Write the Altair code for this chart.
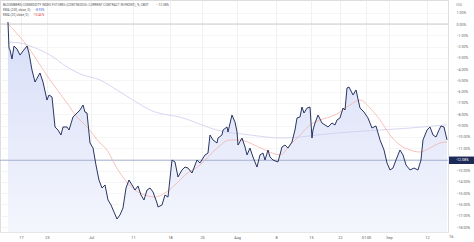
import altair as alt
import pandas as pd

# ---- data (values in % change; t = trading-session index) ----
t_main = [1.14, 1.29, 1.43, 1.71, 2.0, 2.43, 2.86, 3.29, 3.86, 4.14, 4.57, 5.0, 5.71, 6.14, 6.71, 7.0,
          7.43, 7.86, 8.29, 8.71, 9.0, 9.57, 9.86, 10.43, 11.0, 11.43, 11.86, 12.14, 12.43, 12.86, 13.29,
          13.71, 14.14, 14.57, 15.0, 15.43, 15.86, 16.29, 16.71, 17.14, 17.57, 18.0, 18.43, 18.86, 19.29,
          19.71, 20.14, 20.57, 21.0, 21.43, 21.86, 22.43, 22.57, 23.14, 23.57, 24.0, 24.57, 25.0, 25.43,
          26.0, 26.43, 26.86, 27.43, 28.14, 28.57, 29.29, 29.71, 30.0, 30.43, 31.0, 31.14, 31.71, 31.86,
          32.43, 32.57, 33.14, 33.57, 33.86, 34.0, 34.57, 35.0, 35.29, 35.71, 36.14, 36.71, 37.14, 37.57,
          37.86, 38.29, 38.57, 39.0, 39.71, 40.29, 40.71, 41.14, 41.71, 42.14, 42.43, 42.86, 43.14, 43.43,
          43.86, 44.29, 44.57, 44.71, 45.0, 45.43, 46.0, 46.43, 46.86, 47.43, 47.86, 48.14, 48.57, 49.0,
          49.29, 49.57, 49.86, 50.43, 50.86, 51.43, 52.0, 52.57, 53.14, 53.71, 54.29, 54.86, 55.29, 55.71,
          56.14, 56.57, 57.14, 57.57, 58.0, 58.57, 59.14, 59.71, 60.14, 60.43, 61.0, 61.43, 61.86, 62.29,
          62.71, 63.0, 63.43, 63.86]
v_main = [0.18, -2.13, -2.30, -3.10, -1.95, -2.22, -2.75, -2.39, -1.95, -2.57, -4.08, -5.14, -4.34, -5.14, -6.74, -6.29,
          -6.47, -9.13, -9.40, -9.84, -9.13, -9.13, -9.40, -8.24, -7.89, -7.62, -7.18, -7.80, -7.89, -10.55, -10.99,
          -12.50, -13.83, -14.54, -14.27, -15.60, -16.05, -16.67, -17.29, -16.93, -16.31, -14.54, -13.83, -14.27, -14.72,
          -14.36, -15.16, -15.60, -14.72, -14.54, -14.89, -15.87, -16.22, -16.05, -15.16, -15.34, -12.06, -12.23, -13.56,
          -12.94, -12.68, -12.77, -13.21, -12.06, -12.32, -11.61, -11.44, -9.84, -10.28, -10.55, -10.11, -9.84, -9.40,
          -9.13, -9.57, -8.07, -8.69, -9.57, -10.73, -10.11, -10.90, -11.61, -11.00, -11.79, -12.68, -11.61, -11.44,
          -12.06, -11.17, -11.79, -12.06, -12.23, -10.90, -10.73, -11.00, -10.46, -9.40, -8.33, -8.24, -7.36, -7.89,
          -7.45, -7.36, -10.11, -9.40, -8.78, -8.07, -8.78, -8.95, -9.13, -8.78, -8.95, -8.51, -8.33, -7.45,
          -7.62, -5.67, -5.59, -6.29, -5.85, -7.45, -7.80, -8.33, -9.22, -9.04, -10.28, -11.17, -12.32, -12.94,
          -12.77, -12.06, -11.17, -11.61, -12.50, -12.94, -12.77, -12.94, -12.06, -10.28, -9.40, -9.13, -9.84, -10.02,
          -9.40, -9.04, -9.13, -10.28]
v_last = -12.08

t_ema20 = [1.14, 3.57, 7.14, 9.57, 11.0, 12.43, 14.29, 15.29, 16.43, 17.86, 19.29, 20.71, 22.14, 23.57, 25.0,
           26.43, 28.57, 30.71, 32.86, 34.29, 35.71, 37.86, 40.0, 41.43, 42.86, 44.29, 45.71, 47.86, 50.0,
           51.43, 52.86, 54.29, 55.71, 57.14, 58.57, 60.0, 61.43, 62.86, 63.86]
v_ema20 = [0.0, -1.68, -4.96, -7.00, -8.24, -9.13, -10.55, -11.17, -12.50, -13.83, -14.72, -15.16, -15.34, -14.98, -14.27,
           -13.39, -12.50, -11.17, -10.28, -10.28, -10.55, -11.17, -11.61, -10.73, -9.84, -8.95, -8.51, -8.07, -7.18,
           -6.74, -7.45, -8.51, -9.84, -10.73, -11.17, -11.35, -10.99, -10.55, -10.46]

t_ema200 = [1.14, 2.86, 4.71, 7.14, 9.57, 11.86, 14.29, 16.71, 19.0, 21.43, 26.14, 31.0, 35.71, 40.43,
            42.86, 45.29, 50.0, 54.29, 58.57, 63.86]
v_ema200 = [-1.60, -1.68, -2.04, -2.75, -3.81, -4.52, -4.96, -5.85, -6.74, -7.62, -8.33, -9.40, -9.84, -10.11,
            -10.02, -9.84, -9.57, -9.40, -9.22, -8.93]

x_tick_t = [3.0, 6.71, 13.0, 19.0, 24.29, 28.86, 33.86, 39.43, 44.43, 48.57, 52.29, 55.57, 61.0]
x_tick_labels = ["17", "23", "Jul", "11", "18", "25", "Aug", "8", "15", "22", "01:00", "Sep", "12"]
y_ticks = list(range(-18, 2))

title_text = "BLOOMBERG COMMODITY INDEX FUTURES (CONTINUOUS: CURRENT CONTRACT IN FRONT), %, CBOT"
ema200_label, ema200_val = "EMA (200, close, 0)", "-8.93%"
ema20_label, ema20_val = "EMA (20, close, 0)", "-10.46%"
last_label = "-12.08%"

X_DOM = [0, 64]
Y_DOM = [-18.44, 2.13]
FONT = "Roboto"

main = pd.DataFrame({"t": t_main, "v": v_main})
ema20 = pd.DataFrame({"t": t_ema20, "v": v_ema20})
ema200 = pd.DataFrame({"t": t_ema200, "v": v_ema200})

arr = "[" + ",".join(repr(v) for v in x_tick_t) + "]"
lab = "[" + ",".join("'" + s + "'" for s in x_tick_labels) + "]"

xs = alt.Scale(domain=X_DOM, nice=False, zero=False)
ys = alt.Scale(domain=Y_DOM, nice=False, zero=False)

x_axis = alt.Axis(
    values=x_tick_t, labelExpr=f"{lab}[indexof({arr}, datum.value)]", title=None,
    grid=True, gridColor="#eeeeee", gridWidth=0.8, domain=True, domainColor="#e6e6e6",
    ticks=False, labelFont=FONT, labelFontSize=3.8, labelColor="#555555", labelPadding=3,
    labelFlush=False, labelOverlap=False)
y_axis = alt.Axis(
    orient="right", values=y_ticks, labelExpr="format(datum.value, '.2f') + '%'", title=None,
    grid=True, gridColor="#f3f3f3", gridWidth=0.8, domain=False, ticks=False,
    labelFont=FONT, labelFontSize=3.6, labelColor="#666666", labelPadding=8, labelAlign="left",
    labelOverlap=False, labelBound=False)

def X(f="t:Q"):
    return alt.X(f, scale=xs, axis=x_axis)

def Y(f="v:Q"):
    return alt.Y(f, scale=ys, axis=y_axis)

grad = alt.Gradient(gradient="linear",
                    stops=[alt.GradientStop(color="#d6ddf7", offset=0),
                           alt.GradientStop(color="#f4f6fd", offset=1)],
                    x1=1, x2=1, y1=0, y2=1)

area = alt.Chart(main).mark_area(color=grad, opacity=1).encode(
    x=X(), y=Y(), y2=alt.datum(Y_DOM[0]))

zero_rule = alt.Chart(pd.DataFrame({"v": [0]})).mark_rule(color="#cccccc", strokeWidth=1).encode(y=Y())

last_rule = alt.Chart(pd.DataFrame({"v": [v_last]})).mark_rule(color="#8593bb", strokeWidth=0.7).encode(y=Y())

l200 = alt.Chart(ema200).mark_line(color="#cdcdf0", strokeWidth=0.8, interpolate="monotone").encode(
    x=X(), y=Y())
l20 = alt.Chart(ema20).mark_line(color="#f5b3ab", strokeWidth=0.8, interpolate="monotone").encode(
    x=X(), y=Y())
lmain = alt.Chart(main).mark_line(color="#1e2b58", strokeWidth=0.95).encode(x=X(), y=Y())

box_df = pd.DataFrame({"v": [v_last + 0.33], "v2": [v_last - 0.33], "lab": [last_label], "c": [v_last]})
box = alt.Chart(box_df).mark_rect(color="#1e2b58").encode(
    y=Y(), y2="v2:Q", x=alt.value(449), x2=alt.value(474))
box_txt = alt.Chart(box_df).mark_text(color="white", font=FONT, fontSize=3.6, align="left",
                                      baseline="middle").encode(
    y=Y("c:Q"), x=alt.value(456), text="lab:N")

def txt(s, x, y, color="#555555", size=3.2):
    return alt.Chart(pd.DataFrame({"s": [s]})).mark_text(
        font=FONT, fontSize=size, color=color, align="left", baseline="middle").encode(
        x=alt.value(x), y=alt.value(y), text="s:N")

texts = [
    txt(title_text, 3, 4.5), txt("· " + last_label, 156, 4.5),
    txt(ema200_label, 3, 9.5), txt(ema200_val, 35, 9.5, color="#4a62d6"),
    txt(ema20_label, 3, 14.5), txt(ema20_val, 33, 14.5, color="#e04848"),
    txt("USD", 456, 5, color="#888888", size=3.2),
    txt("16", 449, 237, color="#555555", size=3.8),
]

chart = alt.layer(area, zero_rule, last_rule, l200, l20, lmain, box, box_txt, *texts).properties(
    width=448, height=232,
    autosize=alt.AutoSizeParams(type="none"),
    padding={"left": 0, "top": 0, "right": 26, "bottom": 10},
).configure_view(stroke=None).configure_axis(labelOverlap=False).configure(background="white")

chart.save("out.html", embed_options={"renderer": "svg", "actions": False})
